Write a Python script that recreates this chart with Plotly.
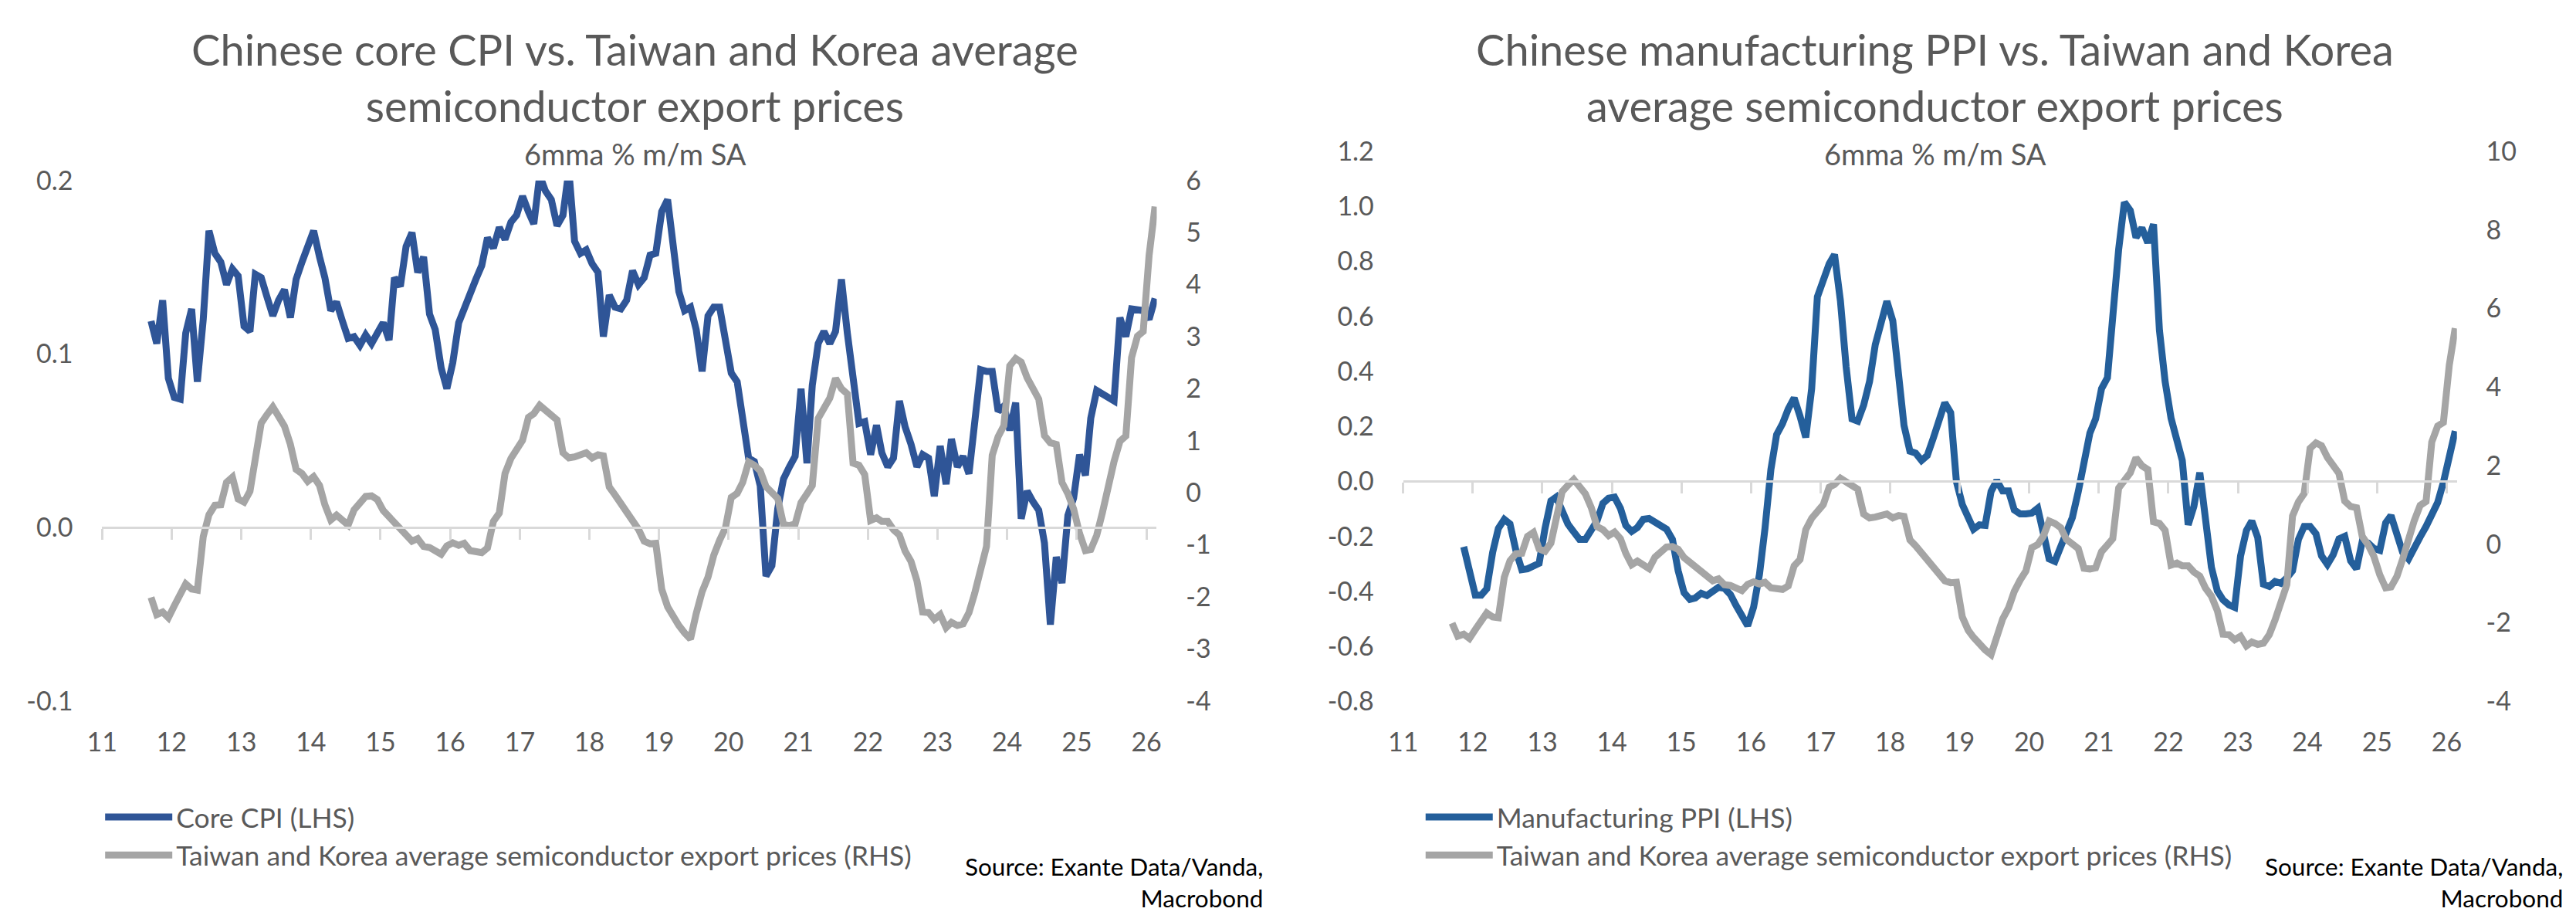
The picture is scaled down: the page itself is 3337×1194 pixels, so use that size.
import pandas as pd
import plotly.graph_objects as go

# monthly observations Sep 2011 - Feb 2026, plotted mid-month
months = pd.date_range("2011-09-01", "2026-02-01", freq="MS") + pd.Timedelta(days=14)

# 6mma % m/m SA, Chinese core CPI (Sep 2011 - Feb 2026)
core_cpi = [
    0.119, 0.106, 0.131, 0.086, 0.075, 0.074, 0.112, 0.126, 0.084, 0.120,
    0.171, 0.158, 0.153, 0.140, 0.149, 0.145, 0.116, 0.113, 0.146, 0.144,
    0.133, 0.122, 0.131, 0.137, 0.121, 0.143, 0.153, 0.162, 0.171, 0.156,
    0.144, 0.125, 0.130, 0.119, 0.109, 0.110, 0.105, 0.111, 0.106, 0.112,
    0.118, 0.108, 0.144, 0.139, 0.162, 0.170, 0.147, 0.156, 0.123, 0.114,
    0.092, 0.080, 0.095, 0.118, 0.127, 0.136, 0.143, 0.151, 0.167, 0.161,
    0.173, 0.166, 0.176, 0.180, 0.191, 0.182, 0.175, 0.203, 0.194, 0.189,
    0.174, 0.180, 0.206, 0.165, 0.158, 0.160, 0.152, 0.147, 0.110, 0.134,
    0.127, 0.126, 0.131, 0.148, 0.140, 0.144, 0.157, 0.158, 0.182, 0.189,
    0.166, 0.136, 0.125, 0.127, 0.114, 0.090, 0.122, 0.127, 0.127, 0.109,
    0.089, 0.084, 0.060, 0.040, 0.038, 0.024, -0.028, -0.022, 0.011, 0.028,
    0.035, 0.041, 0.080, 0.037, 0.082, 0.106, 0.113, 0.106, 0.113, 0.143,
    0.112, 0.086, 0.060, 0.061, 0.042, 0.059, 0.043, 0.035, 0.040, 0.073,
    0.058, 0.048, 0.035, 0.042, 0.040, 0.018, 0.047, 0.025, 0.051, 0.035,
    0.041, 0.031, 0.061, 0.091, 0.090, 0.090, 0.067, 0.070, 0.056, 0.072,
    0.005, 0.021, 0.015, 0.010, -0.009, -0.056, -0.017, -0.032, 0.007, 0.017,
    0.042, 0.030, 0.063, 0.079, 0.077, 0.075, 0.073, 0.121, 0.110, 0.126,
    0.126, 0.125, 0.120, 0.132,
]

# Chinese manufacturing PPI (Nov 2011 - Feb 2026)
mfg_ppi = [
    -0.238, -0.338, -0.414, -0.414, -0.391, -0.258, -0.171, -0.138, -0.155, -0.251,
    -0.321, -0.318, -0.307, -0.298, -0.171, -0.071, -0.057, -0.104, -0.155, -0.184,
    -0.211, -0.211, -0.174, -0.144, -0.080, -0.061, -0.057, -0.098, -0.160, -0.182,
    -0.168, -0.138, -0.135, -0.148, -0.155, -0.174, -0.211, -0.325, -0.405, -0.429,
    -0.424, -0.407, -0.415, -0.398, -0.385, -0.389, -0.411, -0.451, -0.492, -0.525,
    -0.458, -0.338, -0.171, 0.043, 0.170, 0.210, 0.263, 0.303, 0.237, 0.160,
    0.337, 0.671, 0.731, 0.791, 0.825, 0.657, 0.417, 0.227, 0.219, 0.277,
    0.363, 0.497, 0.577, 0.655, 0.584, 0.390, 0.203, 0.110, 0.103, 0.076,
    0.094, 0.156, 0.216, 0.286, 0.250, 0.000, -0.084, -0.138, -0.174, -0.158,
    -0.160, -0.037, 0.003, -0.035, -0.035, -0.104, -0.118, -0.118, -0.115, -0.098,
    -0.198, -0.282, -0.291, -0.231, -0.191, -0.131, -0.037, 0.083, 0.176, 0.227,
    0.337, 0.377, 0.604, 0.844, 1.015, 0.985, 0.887, 0.922, 0.868, 0.935,
    0.550, 0.363, 0.230, 0.150, 0.076, -0.158, -0.091, 0.032, -0.165, -0.312,
    -0.398, -0.431, -0.449, -0.458, -0.271, -0.178, -0.144, -0.204, -0.374, -0.382,
    -0.364, -0.371, -0.351, -0.325, -0.211, -0.164, -0.164, -0.191, -0.271, -0.302,
    -0.267, -0.209, -0.200, -0.289, -0.318, -0.218, -0.224, -0.244, -0.251, -0.151,
    -0.124, -0.204, -0.258, -0.282, -0.248, -0.202, -0.164, -0.124, -0.077, -0.004,
    0.089, 0.183,
]
ppi_months = months[2:]

# Taiwan and Korea average semiconductor export prices (Sep 2011 - Feb 2026)
semi_prices = [
    -2.01, -2.34, -2.29, -2.40, -2.17, -1.95, -1.75, -1.85, -1.87, -0.84,
    -0.42, -0.24, -0.23, 0.20, 0.30, -0.12, -0.18, 0.03, 0.72, 1.34,
    1.50, 1.65, 1.47, 1.28, 0.93, 0.45, 0.37, 0.22, 0.31, 0.14,
    -0.23, -0.52, -0.43, -0.52, -0.62, -0.33, -0.17, -0.07, -0.06, -0.13,
    -0.34, -0.46, -0.61, -0.72, -0.85, -0.93, -0.88, -1.03, -1.05, -1.13,
    -1.18, -1.02, -0.96, -1.01, -0.97, -1.11, -1.14, -1.15, -1.06, -0.55,
    -0.39, 0.37, 0.66, 0.82, 1.01, 1.45, 1.52, 1.68, 1.58, 1.50,
    1.40, 0.77, 0.67, 0.69, 0.73, 0.77, 0.67, 0.73, 0.71, 0.11,
    -0.04, -0.21, -0.40, -0.57, -0.70, -0.93, -0.98, -0.97, -1.85, -2.19,
    -2.37, -2.55, -2.69, -2.81, -2.32, -1.90, -1.62, -1.20, -0.91, -0.68,
    -0.09, -0.01, 0.20, 0.59, 0.53, 0.42, 0.12, 0.02, -0.11, -0.61,
    -0.63, -0.60, -0.19, -0.02, 0.14, 1.43, 1.64, 1.82, 2.20, 2.00,
    1.90, 0.57, 0.53, 0.35, -0.53, -0.48, -0.55, -0.55, -0.71, -0.81,
    -1.12, -1.32, -1.69, -2.29, -2.30, -2.43, -2.34, -2.59, -2.49, -2.55,
    -2.52, -2.30, -1.93, -1.46, -1.03, 0.72, 1.08, 1.29, 2.44, 2.58,
    2.51, 2.21, 1.97, 1.80, 1.10, 0.96, 0.93, 0.20, -0.02, -0.31,
    -0.78, -1.11, -1.09, -0.82, -0.38, 0.15, 0.60, 0.99, 1.09, 2.60,
    3.01, 3.10, 4.56, 5.50,
]

year_ticks = [f"{y}-01-01" for y in range(2011, 2027)]
year_labels = [str(y)[2:] for y in range(2011, 2027)]

cpi_ticks = [-0.1, 0.0, 0.1, 0.2]
cpi_labels = ["-0.1", "0.0", "0.1", "0.2"]
semi_ticks_l = [-4, -3, -2, -1, 0, 1, 2, 3, 4, 5, 6]
semi_labels_l = ["-4", "-3", "-2", "-1", "0", "1", "2", "3", "4", "5", "6"]
ppi_ticks = [-0.8, -0.6, -0.4, -0.2, 0.0, 0.2, 0.4, 0.6, 0.8, 1.0, 1.2]
ppi_labels = ["-0.8", "-0.6", "-0.4", "-0.2", "0.0", "0.2", "0.4", "0.6", "0.8", "1.0", "1.2"]
semi_ticks_r = [-4, -2, 0, 2, 4, 6, 8, 10]
semi_labels_r = ["-4", "-2", "0", "2", "4", "6", "8", "10"]

W, H = 3337, 1194
OFF = 8  # the page body margin pushes the figure 8px right and down
FONT = "Lato"
TXT = "#595959"
BLUE_L = "#2F5597"
BLUE_R = "#245F9B"
GREY = "#A5A5A5"
ZERO = "#D9D9D9"
LW = 9
SEMI_NAME = "Taiwan and Korea average semiconductor export prices (RHS)"


def px_x(v):
    return (v - OFF) / W


def px_y(v):
    return 1 - (v - OFF) / H


x_range = ["2011-01-01", "2026-02-24"]
xdom1 = [px_x(113), px_x(1490)]
xdom2 = [px_x(1811.7), px_x(3187.5)]
ydom1 = [px_y(917), px_y(219)]
ydom2 = [px_y(917.5), px_y(180)]
cpi_range = [-0.1, 0.2]
ppi_range = [-0.8, 1.2]


def zero_pos(dom, rng):
    return dom[0] + (dom[1] - dom[0]) * (0 - rng[0]) / (rng[1] - rng[0])


fig = go.Figure()
# left chart: CPI on x/y, semiconductor prices on the zero-line axis x3 / right scale y2
fig.add_trace(go.Scatter(x=months, y=core_cpi, name="Core CPI (LHS)", mode="lines",
                         line=dict(color=BLUE_L, width=LW), xaxis="x", yaxis="y", legend="legend"))
fig.add_trace(go.Scatter(x=months, y=semi_prices, name=SEMI_NAME, mode="lines",
                         line=dict(color=GREY, width=LW), xaxis="x3", yaxis="y2", legend="legend"))
# right chart: PPI on x2/y3, semiconductor prices on x4 / y4
fig.add_trace(go.Scatter(x=ppi_months, y=mfg_ppi, name="Manufacturing PPI (LHS)", mode="lines",
                         line=dict(color=BLUE_R, width=LW), xaxis="x2", yaxis="y3", legend="legend2"))
fig.add_trace(go.Scatter(x=months, y=semi_prices, name=SEMI_NAME, mode="lines",
                         line=dict(color=GREY, width=LW), xaxis="x4", yaxis="y4", legend="legend2"))

tickfont = dict(family=FONT, size=34, color=TXT)
xcommon = dict(type="date", range=x_range, tickvals=year_ticks, ticktext=year_labels,
               ticks="", showline=False, showgrid=False, zeroline=False,
               tickfont=tickfont, ticklabelstandoff=30)
# axis line with year ticks drawn through zero of the left-hand scale
zcommon = dict(type="date", range=x_range, tickvals=year_ticks, showticklabels=False,
               ticks="outside", ticklen=14, tickwidth=3, tickcolor=ZERO,
               showline=True, linecolor=ZERO, linewidth=3, showgrid=False, zeroline=False,
               anchor="free")
ycommon = dict(ticks="outside", ticklen=30, tickcolor="rgba(0,0,0,0)", showline=False,
               showgrid=False, zeroline=False, tickfont=tickfont)
legfont = dict(family=FONT, size=35.5, color=TXT)

fig.update_layout(
    width=W, height=H, autosize=False,
    margin=dict(l=0, r=0, t=0, b=0),
    paper_bgcolor="white", plot_bgcolor="white",
    font=dict(family=FONT, color=TXT),
    xaxis=dict(domain=xdom1, anchor="y", **xcommon),
    xaxis2=dict(domain=xdom2, anchor="y3", **xcommon),
    xaxis3=dict(overlaying="x", position=zero_pos(ydom1, cpi_range), **zcommon),
    xaxis4=dict(overlaying="x2", position=zero_pos(ydom2, ppi_range), **zcommon),
    yaxis=dict(domain=ydom1, anchor="x", range=cpi_range, tickvals=cpi_ticks,
               ticktext=cpi_labels, **ycommon),
    yaxis2=dict(overlaying="y", anchor="x", side="right", range=[-4, 6],
                tickvals=semi_ticks_l, ticktext=semi_labels_l, **ycommon),
    yaxis3=dict(domain=ydom2, anchor="x2", range=ppi_range, tickvals=ppi_ticks,
                ticktext=ppi_labels, **ycommon),
    yaxis4=dict(overlaying="y3", anchor="x2", side="right", range=[-4, 10],
                tickvals=semi_ticks_r, ticktext=semi_labels_r, **ycommon),
    legend=dict(x=px_x(112), y=px_y(1042), xanchor="left", yanchor="top",
                font=legfont, itemwidth=87, bgcolor="rgba(0,0,0,0)", borderwidth=0),
    legend2=dict(x=px_x(1836), y=px_y(1042), xanchor="left", yanchor="top",
                 font=legfont, itemwidth=87, bgcolor="rgba(0,0,0,0)", borderwidth=0),
    showlegend=True,
)

titles = [
    ("Chinese core CPI vs. Taiwan and Korea average<br>semiconductor export prices", 809),
    ("Chinese manufacturing PPI vs. Taiwan and Korea<br>average semiconductor export prices", 2506),
]
for text, cx in titles:
    fig.add_annotation(text=text, x=px_x(cx), y=px_y(6), xref="paper", yref="paper",
                       xanchor="center", yanchor="top", showarrow=False,
                       font=dict(family=FONT, size=56, color=TXT))
    fig.add_annotation(text="6mma % m/m SA", x=px_x(cx), y=px_y(157), xref="paper", yref="paper",
                       xanchor="center", yanchor="top", showarrow=False,
                       font=dict(family=FONT, size=38, color=TXT))

for rx in (1631, 3328):
    fig.add_annotation(text="Source: Exante Data/Vanda,<br>Macrobond", x=px_x(rx), y=px_y(1117),
                       xref="paper", yref="paper", xanchor="right", yanchor="top", align="right",
                       showarrow=False, font=dict(family=FONT, size=31.5, color="black"))

fig.write_html("out.html")
